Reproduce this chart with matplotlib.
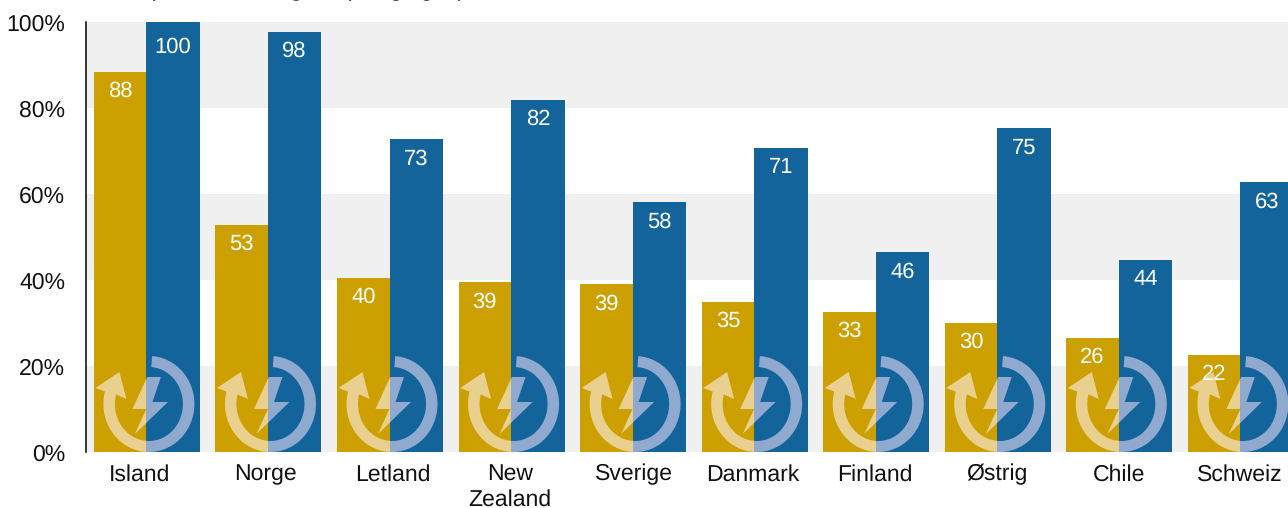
import matplotlib
matplotlib.use('Agg')

import matplotlib.pyplot as plt
import matplotlib.patches as patches
import numpy as np

countries = ['Island', 'Norge', 'Letland', 'New\nZealand', 'Sverige', 'Danmark', 'Finland', 'Østrig', 'Chile', 'Schweiz']
energy = [88.4, 52.8, 40.5, 39.5, 39.0, 35.0, 32.6, 30.0, 26.5, 22.5]
electricity = [100.0, 97.7, 72.7, 81.9, 58.1, 70.7, 46.4, 75.3, 44.7, 62.7]
energy_labels = ['88', '53', '40', '39', '39', '35', '33', '30', '26', '22']
electricity_labels = ['100', '98', '73', '82', '58', '71', '46', '75', '44', '63']
y_ticks = [0, 20, 40, 60, 80, 100]
y_tick_labels = ['0%', '20%', '40%', '60%', '80%', '100%']

GOLD = '#CCA000'
BLUE = '#12649B'
GOLD_ICON = '#E9D08F'
BLUE_ICON = '#8FA9CF'
BAND = '#F0F0F0'

W, H = 1288, 508
LEFT, RIGHT, TOP, BOTTOM = 86, 1288, 22, 452
GROUP_START = 146.4    # pixel of the first gold/blue seam
GROUP_STEP = 121.55    # pixels between groups
PX_Y = (BOTTOM - TOP) / 100

plt.rcParams['font.family'] = ['Liberation Sans', 'DejaVu Sans']
plt.rcParams['text.hinting'] = 'none'
plt.rcParams['text.hinting_factor'] = 1

fig = plt.figure(figsize=(W / 100, H / 100), dpi=100)
ax = fig.add_axes([LEFT / W, 1 - BOTTOM / H, (RIGHT - LEFT) / W, (BOTTOM - TOP) / H])

x = np.arange(len(countries))
gold_w = 52.5 / GROUP_STEP
blue_w = 53.5 / GROUP_STEP


def icon(ax, seam):
    """Recycle + bolt symbol over one pair of bars, in one tint per bar. Sizes in pixels."""
    cx, cy = 2.5, 48
    a = np.radians(np.linspace(86, -195, 120))
    outer = np.column_stack([cx + 45.5 * np.cos(a), cy + 48 * np.sin(a)])
    inner = np.column_stack([cx + 34 * np.cos(a), cy + 37 * np.sin(a)])[::-1]
    arrow = [(-51, 64), (-27, 80), (-20, 53)]
    bolt = [(0.8, 75), (14.5, 75), (6, 50), (21.5, 50), (-11.5, 18), (0, 43), (-14, 43)]
    for pts in [np.vstack([outer, arrow, inner]), bolt]:
        pts = np.asarray(pts, dtype=float)
        data = np.column_stack([seam + pts[:, 0] / GROUP_STEP, pts[:, 1] / PX_Y])
        for color, x0, width in [(GOLD_ICON, seam - gold_w, gold_w), (BLUE_ICON, seam, blue_w)]:
            shape = patches.Polygon(data, closed=True, facecolor=color, edgecolor='none', zorder=4)
            ax.add_patch(shape)
            clip = patches.Rectangle((x0, 0), width, 100, transform=ax.transData)
            shape.set_clip_path(clip)


for low, high in [(0, 20), (40, 60), (80, 100)]:
    ax.axhspan(low, high, facecolor=BAND, edgecolor='none', zorder=0)

ax.bar(x - gold_w / 2, energy, gold_w, color=GOLD, zorder=2)
ax.bar(x + blue_w / 2, electricity, blue_w, color=BLUE, zorder=2)

for i in x:
    icon(ax, i)
    ax.annotate(energy_labels[i], (i - gold_w / 2, energy[i]), xytext=(0, -14), textcoords='offset points',
                ha='center', va='center', color='white', fontsize=16.2, zorder=5)
    # the 100 label sits a little lower than the others in the original
    drop = -18 if electricity[i] >= 100 else -14
    ax.annotate(electricity_labels[i], (i + blue_w / 2, electricity[i]), xytext=(0, drop), textcoords='offset points',
                ha='center', va='center', color='white', fontsize=16.2, zorder=5)

ax.set_xlim((LEFT - GROUP_START) / GROUP_STEP, (RIGHT - GROUP_START) / GROUP_STEP)
ax.set_ylim(0, 100)

# category labels are not quite centred on the seams in the original
label_shift = np.array([-6.5, -2.5, 3, -1, 1, -1.5, -0.5, 0, 0, -0.5]) / GROUP_STEP
ax.set_xticks(x + label_shift, countries)
ax.set_yticks(y_ticks, y_tick_labels)
ax.tick_params(axis='both', length=0, labelsize=16.5, colors='#111111')
ax.tick_params(axis='y', pad=15)
ax.tick_params(axis='x', pad=20.5)
for label in ax.get_xticklabels():
    label.set_va('baseline')
    label.set_linespacing(1.2)
# baseline alignment uses the last line, so the two-line label needs more pad
ax.xaxis.get_major_ticks()[3].set_pad(38.7)

for name in ['top', 'right', 'bottom']:
    ax.spines[name].set_visible(False)
ax.spines['left'].set_linewidth(1.1)
ax.spines['left'].set_color('black')

# bottom of the subtitle, cut off by the top edge of the image
fig.text(148 / W, 1 + 4 / H, '(andel af energi fra pil og i gas)', fontsize=16.5, color='#111111',
         ha='left', va='baseline')

plt.savefig('out.png', dpi=100, facecolor='white')
plt.close()
